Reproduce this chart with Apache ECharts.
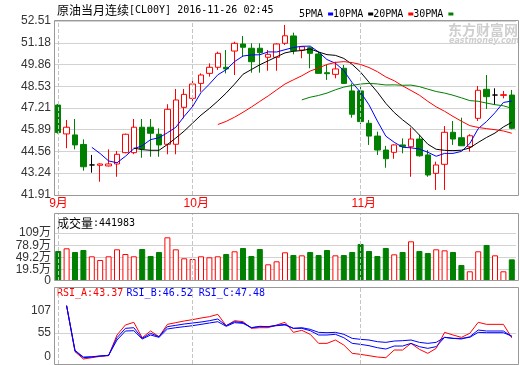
<!DOCTYPE html>
<html><head><meta charset="utf-8">
<script src="https://cdn.jsdelivr.net/npm/echarts@6/dist/echarts.min.js"></script>
<style>html,body{margin:0;padding:0;background:#fff}#c{width:520px;height:365px}</style>
</head><body><div id="c"></div>
<script>
const dates = ['2016-09-09','2016-09-12','2016-09-13','2016-09-14','2016-09-15','2016-09-16','2016-09-19','2016-09-20','2016-09-21','2016-09-22','2016-09-23','2016-09-26','2016-09-27','2016-09-28','2016-09-29','2016-09-30',
'2016-10-03','2016-10-04','2016-10-05','2016-10-06','2016-10-07','2016-10-10','2016-10-11','2016-10-12','2016-10-13','2016-10-14','2016-10-17','2016-10-18','2016-10-19','2016-10-20','2016-10-21','2016-10-24','2016-10-25','2016-10-26','2016-10-27','2016-10-28',
'2016-11-01','2016-11-02','2016-11-03','2016-11-04','2016-11-07','2016-11-08','2016-11-09','2016-11-10','2016-11-11','2016-11-14','2016-11-15','2016-11-16','2016-11-17','2016-11-18','2016-11-21','2016-11-22','2016-11-23','2016-11-24','2016-11-25'];
const opens  = [47.39,45.63,45.57,44.99,43.74,43.72,43.68,43.80,44.49,44.49,46.04,46.04,45.61,45.00,45.00,47.25,47.80,48.71,49.32,49.69,49.69,50.68,51.11,50.85,50.85,50.30,50.30,51.15,51.60,50.74,50.88,50.50,49.36,49.26,49.63,48.25,48.25,46.28,45.50,44.65,44.51,44.96,44.85,45.32,44.35,43.23,43.78,45.73,45.40,44.85,46.58,48.35,48.00,47.98,48.00];
const closes = [45.71,46.04,44.96,43.63,43.74,43.80,43.80,44.39,45.61,46.04,44.71,45.67,44.96,47.13,47.70,48.04,48.67,49.22,49.69,50.54,49.59,51.15,50.91,50.03,50.58,50.48,51.11,51.61,50.70,50.94,50.54,49.32,49.30,49.59,48.71,46.83,46.38,45.50,44.65,44.12,44.96,44.86,45.32,44.30,43.13,43.74,45.73,45.32,44.91,45.52,48.29,47.90,48.00,48.02,45.97];
const lows   = [45.65,44.76,44.69,43.39,43.27,42.72,43.65,43.02,44.45,44.40,44.18,44.24,44.24,44.39,44.39,46.58,47.09,48.20,49.12,49.53,49.32,49.22,50.34,49.36,49.36,49.48,49.48,51.05,50.48,50.24,49.63,49.30,48.92,49.02,48.68,46.62,46.22,44.96,44.35,43.57,44.12,44.45,43.02,44.24,43.02,42.22,42.22,44.96,44.91,44.55,46.42,47.15,47.39,47.80,45.91];
const highs  = [47.45,46.48,46.54,45.30,44.35,43.84,44.69,44.59,45.65,46.54,46.54,46.54,45.97,47.44,48.37,48.37,49.02,49.32,49.93,50.64,50.74,51.25,51.60,51.15,51.15,50.74,51.15,52.27,51.80,50.98,50.94,50.64,49.83,50.03,49.83,48.71,48.67,46.48,45.77,44.90,45.00,45.36,46.01,45.57,44.65,43.94,46.11,46.42,46.62,45.61,48.55,49.22,48.41,48.25,48.31];
// volume in 万 (10k contracts)
const volumes = [64.9,71.5,62.4,67.3,51.7,42.6,51.7,69,57.4,51.7,69.8,52.5,62.4,98.7,69,46.8,45,51.7,49.2,51.7,57.4,64.1,72.3,52.5,69.8,31.9,39.3,61.6,54.9,54.1,62.4,54.9,67.3,54.1,54.9,62.4,82.2,64.9,52.5,72.3,56.6,62.4,88.8,64.9,59.9,69,66.5,62.4,30.2,14.6,64.1,79.7,54.1,14.6,44.1983];
const rsiA = [null,118.2,11.2,-5.8,-2.7,0.4,1.9,50.0,73.3,79.5,43.8,59.3,46.1,74.8,78.7,82.6,85.7,89.5,92.6,98.0,71.7,83.3,81.0,65.5,67.0,67.0,73.3,79.5,56.2,60.9,51.6,30.6,30.6,38.4,26.7,7.4,5.0,1.9,-1.2,-2.7,15.1,15.1,30.6,16.7,7.4,19.0,56.2,50.0,44.6,53.9,79.5,74.8,74.8,74.8,43.37];
const rsiB = [null,118.2,12.8,-2.7,-1.2,1.2,2.7,43.8,65.5,67.0,42.2,53.9,46.1,69.4,72.5,75.6,77.9,80.2,83.3,87.2,71.7,81.0,78.7,67.0,69.4,69.4,72.5,74.8,65.5,65.5,60.1,50.0,50.0,51.6,43.8,30.6,28.3,25.2,20.5,17.4,24.4,24.4,30.6,22.9,19.0,22.9,44.6,42.2,40.7,46.1,61.6,59.3,59.3,59.3,46.52];
const rsiC = [null,118.2,14.3,-1.2,-0.4,1.2,2.7,38.4,59.3,60.0,40.7,50.0,44.6,64.0,67.0,69.4,71.7,74.8,77.9,81.0,70.2,78.7,77.1,67.0,70.2,69.4,71.7,73.3,65.5,67.0,63.2,56.2,55.4,56.2,51.6,42.2,39.9,38.4,34.5,32.9,36.0,36.8,38.4,32.9,30.6,32.9,44.6,42.2,42.2,44.6,56.2,55.4,55.4,55.4,47.48];
const priceTicks = [41.91,43.24,44.56,45.89,47.21,48.53,49.86,51.18,52.51];
const volFloor = -9.4;
const volTicks = [19.5,49.2,78.9,109];
const rsiTicks = [0,55,107];
const maPeriods = [5,10,20,30];
const maColors = ['#0000ff','#000000','#ff0000','#008000'];

const n = dates.length;
const monthStarts = dates.map((d,i)=> (i===0 || dates[i-1].slice(5,7)!==d.slice(5,7)) ? i : -1).filter(i=>i>=0);
function ma(p){ return closes.map((c,i)=> i<p-1 ? null : +(closes.slice(i-p+1,i+1).reduce((a,b)=>a+b,0)/p).toFixed(3)); }

const RED='#ff0000', GREEN='#008000';
const monoFont = 'DejaVu Sans Mono';
const cjkFont = 'Noto Sans CJK SC';
const lblFont = 'Liberation Sans, Noto Sans CJK SC';

const monthMark = {
  silent:true, symbol:'none', animation:false, label:{show:false},
  lineStyle:{type:'dashed', color:'#c4c4c4', width:1},
  data: monthStarts.map(i=>({xAxis: dates[i]}))
};

const L=54, R=4;
const grids = [
  {left:L, right:R, top:21, height:174},
  {left:L, right:R, top:214, height:67},
  {left:L, right:R, top:288, height:76}
];
function xAx(gi, showLabel){
  return {type:'category', gridIndex:gi, data:dates, boundaryGap:true,
    axisLine:{show:false}, axisTick:{show:false}, splitLine:{show:false},
    axisLabel: showLabel ? {
      show:true, color:RED, fontSize:12, fontFamily:lblFont, align:'left', margin:3,
      padding:[0,0,0,-9],
      interval:(idx)=>monthStarts.indexOf(idx)>=0,
      formatter:(v)=>parseInt(v.slice(5,7),10)+'月'
    } : {show:false}};
}
const lastVol = Math.round(volumes[n-1]*10000);
const yLbl = {color:'#333', fontSize:12, fontFamily:lblFont, margin:3, hideOverlap:false};

const option = {
  animation:false,
  backgroundColor:'#fff',
  grid: grids,
  legend: {left:294, top:4, align:'right', icon:'rect', itemWidth:5, itemHeight:3, itemGap:0,
    selectedMode:false, data: maPeriods.map(p=>p+'PMA'),
    textStyle:{fontFamily:monoFont, fontSize:10, color:'#000'}},
  xAxis: [xAx(0,true), xAx(1,false), xAx(2,false)],
  yAxis: [
    {type:'value', gridIndex:0, position:'left', min:priceTicks[0], max:priceTicks[priceTicks.length-1],
      axisLine:{show:false}, axisTick:{show:false, customValues:priceTicks},
      axisLabel:Object.assign({customValues:priceTicks, formatter:(v)=>v.toFixed(2)}, yLbl),
      splitLine:{show:true, lineStyle:{color:'#d2d2d2'}}},
    {type:'value', gridIndex:1, position:'left', min:volFloor, max:156.4, startValue:volFloor,
      axisLine:{show:false}, axisTick:{show:false, customValues:volTicks},
      axisLabel:Object.assign({customValues:volTicks, formatter:(v)=> v+'万'}, yLbl),
      splitLine:{show:true, lineStyle:{color:'#d2d2d2'}}},
    {type:'value', gridIndex:2, position:'left', min:-17.4, max:159.3,
      axisLine:{show:false}, axisTick:{show:false, customValues:[55]},
      axisLabel:Object.assign({customValues:rsiTicks}, yLbl),
      splitLine:{show:true, lineStyle:{color:'#d2d2d2'}}},
    {type:'value', gridIndex:1, position:'left', offset:0, min:volFloor, max:156.4,
      axisLine:{show:false}, axisTick:{show:false}, splitLine:{show:false},
      axisLabel:Object.assign({customValues:[volFloor], showMinLabel:true, formatter:()=>'0'}, yLbl)}
  ],
  series: [
    {type:'candlestick', name:'K', xAxisIndex:0, yAxisIndex:0, barWidth:6,
      data: dates.map((d,i)=>[opens[i],closes[i],lows[i],highs[i]]),
      itemStyle:{color:'#ffffff', color0:GREEN, borderColor:RED, borderColor0:GREEN, borderColorDoji:'#000000', borderWidth:1},
      markLine: monthMark},
    ...maPeriods.map((p,k)=>({type:'line', name:p+'PMA', xAxisIndex:0, yAxisIndex:0, data:ma(p),
      showSymbol:false, symbol:'none', color:maColors[k], lineStyle:{width:1, color:maColors[k]}, z:3})),
    {type:'bar', name:'VOL', xAxisIndex:1, yAxisIndex:1, barWidth:6,
      data: volumes.map((v,i)=>({value:v, itemStyle: closes[i]>=opens[i]
        ? {color:'#ffffff', borderColor:RED, borderWidth:1}
        : {color:GREEN, borderColor:GREEN, borderWidth:1}})),
      markLine: monthMark},
    {type:'line', name:'RSI_A', xAxisIndex:2, yAxisIndex:2, data:rsiA, showSymbol:false, symbol:'none', lineStyle:{width:1, color:RED}, color:RED, markLine: monthMark},
    {type:'line', name:'RSI_B', xAxisIndex:2, yAxisIndex:2, data:rsiB, showSymbol:false, symbol:'none', lineStyle:{width:1, color:'#0000ff'}, color:'#0000ff'},
    {type:'line', name:'RSI_C', xAxisIndex:2, yAxisIndex:2, data:rsiC, showSymbol:false, symbol:'none', lineStyle:{width:1, color:'#0000ff'}, color:'#0000ff'}
  ],
  graphic: [
    {type:'rect', silent:true, z:100, shape:{x:54.5, y:20.5, width:464, height:175}, style:{fill:'none', stroke:'#999', lineWidth:1}},
    {type:'rect', silent:true, z:100, shape:{x:54.5, y:213.5, width:464, height:67}, style:{fill:'none', stroke:'#999', lineWidth:1}},
    {type:'rect', silent:true, z:100, shape:{x:54.5, y:287.5, width:464, height:77}, style:{fill:'none', stroke:'#999', lineWidth:1}},
    {type:'text', silent:true, x:57, y:10, style:{verticalAlign:'middle',
      text:'{cn|原油当月连续}{en|[CL00Y] 2016-11-26 02:45}',
      rich:{cn:{fontFamily:cjkFont, fontSize:12, fill:'#000'}, en:{fontFamily:monoFont, fontSize:10, fill:'#000'}}}},
    {type:'text', silent:true, x:57, y:223, style:{verticalAlign:'middle',
      text:'{cn|成交量}{en|:'+lastVol+'}',
      rich:{cn:{fontFamily:cjkFont, fontSize:12, fill:'#000'}, en:{fontFamily:monoFont, fontSize:10, fill:'#000'}}}},
    {type:'text', silent:true, x:57, y:293.5, style:{verticalAlign:'middle',
      text:'{a|RSI_A:'+rsiA[n-1].toFixed(2)+'} {b|RSI_B:'+rsiB[n-1].toFixed(2)+' RSI_C:'+rsiC[n-1].toFixed(2)+'}',
      rich:{a:{fontFamily:monoFont, fontSize:10, fill:RED}, b:{fontFamily:monoFont, fontSize:10, fill:'#0000ff'}}}},
    {type:'text', silent:true, x:448, y:29.5, z:0, style:{verticalAlign:'middle', text:'东方财富网', fontFamily:cjkFont, fontSize:14, fontWeight:'bold', fill:'#cfcfcf'}},
    {type:'text', silent:true, x:449, y:40.5, z:0, style:{verticalAlign:'middle', text:'eastmoney.com', fontFamily:'DejaVu Sans', fontSize:8, fontWeight:'bold', fontStyle:'italic', fill:'#cfcfcf'}}
  ]
};
const chart = echarts.init(document.getElementById('c'));
chart.setOption(option);
</script>
</body></html>
